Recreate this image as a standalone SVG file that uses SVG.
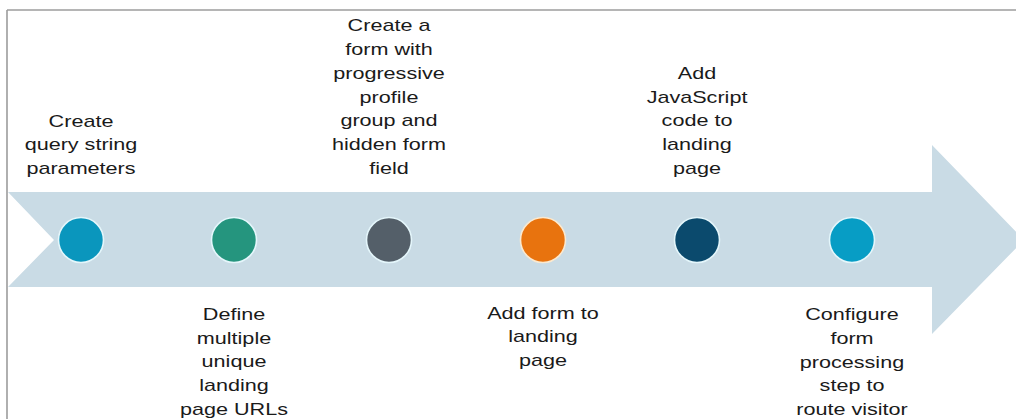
<svg xmlns="http://www.w3.org/2000/svg" width="1016" height="419" viewBox="0 0 1016 419">
<style>
.lbl{font-family:"Liberation Sans",Arial,sans-serif;font-size:17px;fill:#1a1a1a;text-anchor:middle}
.dot{stroke:#e4f6fb;stroke-width:1.6}
</style>
<rect x="0" y="0" width="1016" height="419" fill="#ffffff"/>
<g id="frame" fill="none" stroke="#9c9c9c" stroke-width="1.6">
<line x1="7" y1="10" x2="1016" y2="10"/>
<line x1="7" y1="10" x2="7" y2="419"/>
</g>
<g id="connectors">
<polygon points="8,192 932,192 932,145 1024,240 932,334 932,287 8,287 54,240" fill="#c9dbe5"/>
</g>
<g id="step1">
<circle class="dot" cx="81" cy="240" r="22.5" fill="#0a96bd"/>
<text class="lbl" transform="translate(81,0) scale(1.27,1)"><tspan x="0" y="127">Create</tspan><tspan x="0" y="150.5">query string</tspan><tspan x="0" y="174">parameters</tspan></text>
</g>
<g id="step2">
<circle class="dot" cx="234" cy="240" r="22.5" fill="#25957e"/>
<text class="lbl" transform="translate(234,0) scale(1.27,1)"><tspan x="0" y="320">Define</tspan><tspan x="0" y="343.7">multiple</tspan><tspan x="0" y="367.4">unique</tspan><tspan x="0" y="391.1">landing</tspan><tspan x="0" y="414.8">page URLs</tspan></text>
</g>
<g id="step3">
<circle class="dot" cx="389" cy="240" r="22.5" fill="#545f69"/>
<text class="lbl" transform="translate(389,0) scale(1.27,1)"><tspan x="0" y="31.5">Create a</tspan><tspan x="0" y="55.2">form with</tspan><tspan x="0" y="78.9">progressive</tspan><tspan x="0" y="102.6">profile</tspan><tspan x="0" y="126.3">group and</tspan><tspan x="0" y="150">hidden form</tspan><tspan x="0" y="173.7">field</tspan></text>
</g>
<g id="step4">
<circle class="dot" cx="543" cy="240" r="22.5" fill="#e8730e" style="stroke:#fbe9cf"/>
<text class="lbl" transform="translate(543,0) scale(1.27,1)"><tspan x="0" y="319">Add form to</tspan><tspan x="0" y="342.5">landing</tspan><tspan x="0" y="366">page</tspan></text>
</g>
<g id="step5">
<circle class="dot" cx="697" cy="240" r="22.5" fill="#0b4a6d"/>
<text class="lbl" transform="translate(697,0) scale(1.27,1)"><tspan x="0" y="79">Add</tspan><tspan x="0" y="102.7">JavaScript</tspan><tspan x="0" y="126.4">code to</tspan><tspan x="0" y="150.1">landing</tspan><tspan x="0" y="173.8">page</tspan></text>
</g>
<g id="step6">
<circle class="dot" cx="852" cy="240" r="22.5" fill="#079dc5"/>
<text class="lbl" transform="translate(852,0) scale(1.27,1)"><tspan x="0" y="320.5">Configure</tspan><tspan x="0" y="344.1">form</tspan><tspan x="0" y="367.7">processing</tspan><tspan x="0" y="391.3">step to</tspan><tspan x="0" y="414.9">route visitor</tspan></text>
</g>
</svg>
